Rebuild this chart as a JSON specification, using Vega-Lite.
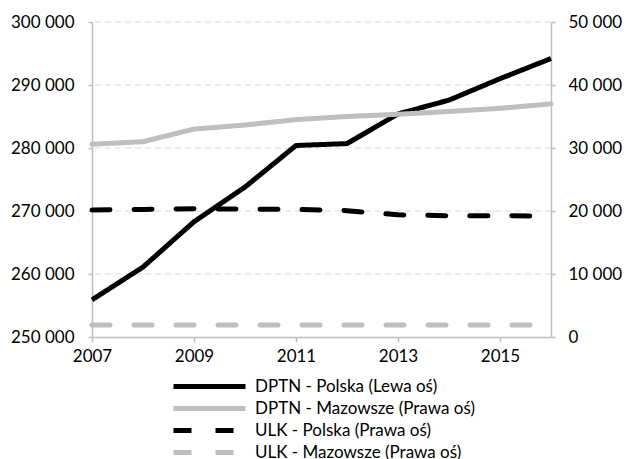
{
  "$schema": "https://vega.github.io/schema/vega-lite/v6.json",
  "autosize": {"type": "none"},
  "width": 459,
  "height": 315,
  "padding": {"left": 92, "top": 22, "right": 81, "bottom": 122},
  "background": "white",
  "config": {
    "view": {"stroke": null},
    "font": "Lato",
    "axis": {"labelFont": "Lato", "labelFontSize": 17, "labelColor": "#000000", "domainColor": "#bfbfbf", "tickColor": "#bfbfbf", "domainWidth": 1.5, "tickWidth": 1.5}
  },
  "data": {
    "values": [
      {"year": 2007, "series": "DPTN - Polska (Lewa oś)", "value": 255900},
      {"year": 2008, "series": "DPTN - Polska (Lewa oś)", "value": 261100},
      {"year": 2009, "series": "DPTN - Polska (Lewa oś)", "value": 268300},
      {"year": 2010, "series": "DPTN - Polska (Lewa oś)", "value": 273800},
      {"year": 2011, "series": "DPTN - Polska (Lewa oś)", "value": 280400},
      {"year": 2012, "series": "DPTN - Polska (Lewa oś)", "value": 280700},
      {"year": 2013, "series": "DPTN - Polska (Lewa oś)", "value": 285400},
      {"year": 2014, "series": "DPTN - Polska (Lewa oś)", "value": 287600},
      {"year": 2015, "series": "DPTN - Polska (Lewa oś)", "value": 291000},
      {"year": 2016, "series": "DPTN - Polska (Lewa oś)", "value": 294200},
      {"year": 2007, "series": "DPTN - Mazowsze (Prawa oś)", "value": 30600},
      {"year": 2008, "series": "DPTN - Mazowsze (Prawa oś)", "value": 31000},
      {"year": 2009, "series": "DPTN - Mazowsze (Prawa oś)", "value": 33000},
      {"year": 2010, "series": "DPTN - Mazowsze (Prawa oś)", "value": 33650},
      {"year": 2011, "series": "DPTN - Mazowsze (Prawa oś)", "value": 34500},
      {"year": 2012, "series": "DPTN - Mazowsze (Prawa oś)", "value": 35000},
      {"year": 2013, "series": "DPTN - Mazowsze (Prawa oś)", "value": 35350},
      {"year": 2014, "series": "DPTN - Mazowsze (Prawa oś)", "value": 35800},
      {"year": 2015, "series": "DPTN - Mazowsze (Prawa oś)", "value": 36300},
      {"year": 2016, "series": "DPTN - Mazowsze (Prawa oś)", "value": 37000},
      {"year": 2007, "series": "ULK -  Polska (Prawa oś)", "value": 20150},
      {"year": 2008, "series": "ULK -  Polska (Prawa oś)", "value": 20250},
      {"year": 2009, "series": "ULK -  Polska (Prawa oś)", "value": 20350},
      {"year": 2010, "series": "ULK -  Polska (Prawa oś)", "value": 20300},
      {"year": 2011, "series": "ULK -  Polska (Prawa oś)", "value": 20250},
      {"year": 2012, "series": "ULK -  Polska (Prawa oś)", "value": 20050},
      {"year": 2013, "series": "ULK -  Polska (Prawa oś)", "value": 19400},
      {"year": 2014, "series": "ULK -  Polska (Prawa oś)", "value": 19250},
      {"year": 2015, "series": "ULK -  Polska (Prawa oś)", "value": 19250},
      {"year": 2016, "series": "ULK -  Polska (Prawa oś)", "value": 19200},
      {"year": 2007, "series": "ULK - Mazowsze (Prawa oś)", "value": 1900},
      {"year": 2008, "series": "ULK - Mazowsze (Prawa oś)", "value": 1900},
      {"year": 2009, "series": "ULK - Mazowsze (Prawa oś)", "value": 1900},
      {"year": 2010, "series": "ULK - Mazowsze (Prawa oś)", "value": 1900},
      {"year": 2011, "series": "ULK - Mazowsze (Prawa oś)", "value": 1900},
      {"year": 2012, "series": "ULK - Mazowsze (Prawa oś)", "value": 1900},
      {"year": 2013, "series": "ULK - Mazowsze (Prawa oś)", "value": 1900},
      {"year": 2014, "series": "ULK - Mazowsze (Prawa oś)", "value": 1900},
      {"year": 2015, "series": "ULK - Mazowsze (Prawa oś)", "value": 1900},
      {"year": 2016, "series": "ULK - Mazowsze (Prawa oś)", "value": 1900}
    ]
  },
  "encoding": {
    "x": {
      "field": "year", "type": "quantitative",
      "scale": {"domain": [2007, 2016], "nice": false, "zero": false},
      "axis": {"title": null, "values": [2007, 2009, 2011, 2013, 2015], "format": "d", "grid": false, "tickSize": 5, "labelPadding": 6, "labelFlush": false}
    },
    "color": {
      "field": "series", "type": "nominal",
      "scale": {
        "domain": ["DPTN - Polska (Lewa oś)", "DPTN - Mazowsze (Prawa oś)", "ULK -  Polska (Prawa oś)", "ULK - Mazowsze (Prawa oś)"],
        "range": ["#000000", "#bfbfbf", "#000000", "#bfbfbf"]
      },
      "legend": {
        "title": null, "orient": "none", "legendX": 107, "legendY": 354, "padding": 0,
        "direction": "vertical", "columns": 1,
        "symbolType": "M-4.5,0H4.5", "symbolSize": 256, "symbolStrokeWidth": 5,
        "labelFont": "Lato", "labelFontSize": 17, "labelColor": "#000000", "labelLimit": 400,
        "rowPadding": 1, "labelOffset": 35, "symbolOffset": 0
      }
    },
    "strokeDash": {
      "field": "series", "type": "nominal",
      "scale": {
        "domain": ["DPTN - Polska (Lewa oś)", "DPTN - Mazowsze (Prawa oś)", "ULK -  Polska (Prawa oś)", "ULK - Mazowsze (Prawa oś)"],
        "range": [[1, 0], [1, 0], [18, 24], [18, 24]]
      },
      "legend": null
    }
  },
  "layer": [
    {
      "data": {"values": [{"v": 10000}, {"v": 20000}, {"v": 30000}, {"v": 40000}, {"v": 50000}]},
      "mark": {"type": "rule", "color": "#d9d9d9", "strokeDash": [6, 4], "strokeWidth": 1.2},
      "encoding": {
        "y": {"field": "v", "type": "quantitative", "scale": {"domain": [0, 50000]}, "axis": null},
        "x": null, "color": null, "strokeDash": null
      }
    },
    {
      "transform": [{"filter": "datum.series === 'DPTN - Polska (Lewa oś)'"}],
      "mark": {"type": "line", "strokeWidth": 5, "strokeCap": "butt", "strokeJoin": "round"},
      "encoding": {
        "y": {
          "field": "value", "type": "quantitative",
          "scale": {"domain": [250000, 300000], "nice": false, "zero": false},
          "axis": {"title": null, "orient": "left", "values": [250000, 260000, 270000, 280000, 290000, 300000], "labelExpr": "replace(format(datum.value, ','), ',', ' ')", "grid": false, "tickSize": 4, "labelPadding": 14}
        }
      }
    },
    {
      "transform": [{"filter": "datum.series !== 'DPTN - Polska (Lewa oś)'"}],
      "mark": {"type": "line", "strokeWidth": 5, "strokeCap": "round", "strokeJoin": "round"},
      "encoding": {
        "y": {
          "field": "value", "type": "quantitative",
          "scale": {"domain": [0, 50000], "nice": false},
          "axis": {"title": null, "orient": "right", "values": [0, 10000, 20000, 30000, 40000, 50000], "labelExpr": "datum.value === 0 ? '0' : replace(format(datum.value, ','), ',', ' ')", "grid": false, "tickSize": 4, "labelPadding": 13}
        }
      }
    }
  ],
  "resolve": {"scale": {"y": "independent"}}
}
